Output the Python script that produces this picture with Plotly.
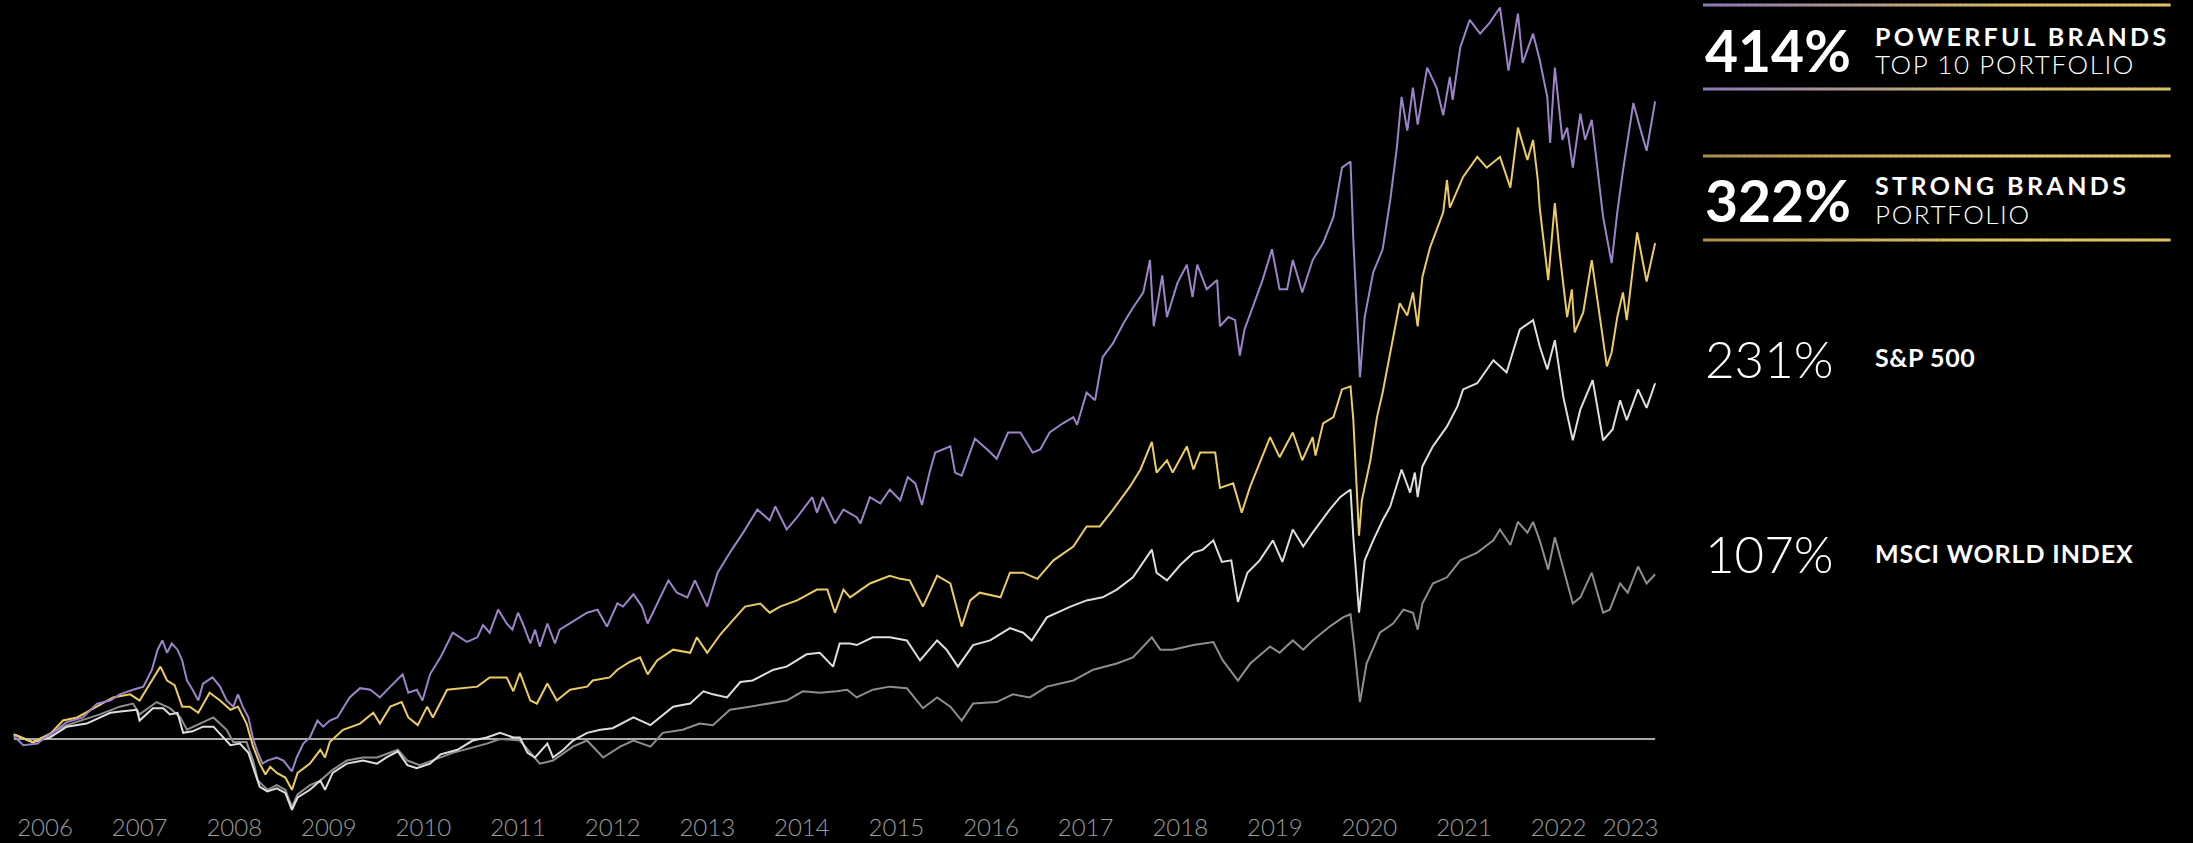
import plotly.graph_objects as go

# Cumulative total return (%) by decimal year, one list of (year, return) per series.
POWERFUL_TOP10 = [
    (2006.17, 2), (2006.27, -4), (2006.42, -3), (2006.48, 0), (2006.58, 4), (2006.73, 11), (2006.90, 14),
    (2007.05, 23), (2007.19, 25), (2007.29, 29), (2007.43, 32), (2007.54, 34), (2007.63, 45), (2007.69, 58),
    (2007.74, 64), (2007.79, 56), (2007.84, 62), (2007.90, 58), (2007.95, 51), (2008.00, 38), (2008.06, 32),
    (2008.12, 25), (2008.17, 36), (2008.27, 40), (2008.35, 34), (2008.42, 25), (2008.49, 21), (2008.54, 29),
    (2008.59, 21), (2008.65, 14), (2008.70, 0), (2008.75, -9), (2008.80, -16), (2008.85, -14), (2008.95, -12),
    (2009.02, -14), (2009.11, -21), (2009.16, -12), (2009.23, -3), (2009.30, 1), (2009.38, 12), (2009.44, 8),
    (2009.51, 12), (2009.59, 14), (2009.72, 27), (2009.83, 33), (2009.94, 32), (2010.04, 27), (2010.15, 34),
    (2010.28, 42), (2010.34, 30), (2010.43, 32), (2010.49, 25), (2010.57, 42), (2010.68, 53), (2010.81, 69),
    (2010.96, 63), (2011.07, 66), (2011.13, 74), (2011.20, 69), (2011.29, 84), (2011.38, 75), (2011.44, 71),
    (2011.50, 82), (2011.55, 75), (2011.63, 62), (2011.68, 71), (2011.73, 60), (2011.81, 75), (2011.89, 62),
    (2011.94, 71), (2012.05, 75), (2012.23, 82), (2012.34, 84), (2012.44, 73), (2012.55, 88), (2012.61, 86),
    (2012.72, 94), (2012.81, 86), (2012.87, 75), (2012.97, 88), (2013.09, 103), (2013.18, 95), (2013.29, 92),
    (2013.37, 103), (2013.50, 86), (2013.61, 108), (2013.76, 123), (2013.88, 134), (2014.03, 149), (2014.16, 142),
    (2014.22, 151), (2014.34, 136), (2014.45, 144), (2014.61, 157), (2014.66, 147), (2014.72, 157), (2014.85, 140),
    (2014.94, 149), (2015.08, 144), (2015.12, 140), (2015.22, 157), (2015.33, 153), (2015.43, 162), (2015.54, 155),
    (2015.62, 170), (2015.70, 166), (2015.77, 152), (2015.85, 173), (2015.91, 186), (2016.07, 190), (2016.12, 173),
    (2016.19, 171), (2016.33, 195), (2016.46, 188), (2016.56, 182), (2016.68, 199), (2016.81, 199), (2016.94, 186),
    (2017.02, 188), (2017.12, 199), (2017.26, 205), (2017.37, 209), (2017.41, 204), (2017.51, 225), (2017.60, 220),
    (2017.68, 248), (2017.79, 257), (2017.90, 270), (2018.00, 280), (2018.11, 290), (2018.18, 311), (2018.22, 268),
    (2018.31, 301), (2018.36, 274), (2018.47, 296), (2018.57, 308), (2018.63, 287), (2018.68, 308), (2018.78, 292),
    (2018.89, 298), (2018.92, 268), (2019.01, 274), (2019.08, 272), (2019.13, 249), (2019.18, 266), (2019.27, 281),
    (2019.37, 298), (2019.47, 318), (2019.55, 292), (2019.63, 292), (2019.69, 311), (2019.79, 290), (2019.90, 311),
    (2020.01, 322), (2020.12, 339), (2020.21, 371), (2020.30, 375), (2020.33, 324), (2020.40, 235), (2020.45, 274),
    (2020.54, 303), (2020.64, 318), (2020.72, 350), (2020.79, 384), (2020.84, 417), (2020.90, 395), (2020.96, 423),
    (2021.01, 399), (2021.11, 436), (2021.21, 423), (2021.28, 405), (2021.35, 430), (2021.38, 415), (2021.46, 449),
    (2021.56, 467), (2021.67, 458), (2021.77, 465), (2021.88, 475), (2021.97, 434), (2022.07, 471), (2022.12, 439),
    (2022.23, 458), (2022.30, 441), (2022.38, 417), (2022.41, 387), (2022.46, 436), (2022.54, 389), (2022.59, 397),
    (2022.65, 371), (2022.73, 406), (2022.78, 389), (2022.85, 402), (2022.91, 371), (2022.97, 339), (2023.06, 309),
    (2023.12, 342), (2023.18, 369), (2023.29, 413), (2023.36, 397), (2023.43, 382), (2023.52, 414),
]

STRONG_BRANDS = [
    (2006.17, 3), (2006.37, -2), (2006.55, 3), (2006.69, 12), (2006.84, 14), (2007.05, 21), (2007.22, 27),
    (2007.40, 29), (2007.50, 25), (2007.61, 36), (2007.72, 47), (2007.79, 38), (2007.87, 35), (2007.95, 21),
    (2008.03, 21), (2008.12, 17), (2008.24, 30), (2008.35, 25), (2008.46, 19), (2008.54, 21), (2008.63, 10),
    (2008.70, -5), (2008.77, -16), (2008.83, -23), (2008.88, -18), (2008.95, -22), (2009.04, -25), (2009.11, -33),
    (2009.17, -22), (2009.30, -16), (2009.41, -7), (2009.46, -12), (2009.51, -2), (2009.65, 6), (2009.83, 10),
    (2009.97, 17), (2010.04, 10), (2010.15, 21), (2010.27, 24), (2010.34, 14), (2010.44, 9), (2010.54, 21),
    (2010.60, 14), (2010.75, 32), (2010.92, 33), (2011.07, 34), (2011.20, 40), (2011.38, 40), (2011.45, 31),
    (2011.52, 43), (2011.63, 25), (2011.70, 23), (2011.81, 36), (2011.91, 25), (2012.05, 32), (2012.23, 34),
    (2012.29, 38), (2012.47, 40), (2012.55, 45), (2012.68, 50), (2012.79, 53), (2012.87, 42), (2012.97, 51),
    (2013.14, 58), (2013.32, 56), (2013.39, 66), (2013.50, 56), (2013.64, 68), (2013.77, 77), (2013.90, 86),
    (2014.06, 88), (2014.16, 82), (2014.27, 86), (2014.45, 90), (2014.66, 97), (2014.77, 97), (2014.85, 82),
    (2014.94, 97), (2015.01, 92), (2015.22, 101), (2015.43, 106), (2015.54, 104), (2015.64, 103), (2015.78, 86),
    (2015.93, 106), (2016.07, 101), (2016.19, 73), (2016.28, 90), (2016.38, 95), (2016.60, 92), (2016.70, 108),
    (2016.84, 108), (2016.99, 104), (2017.16, 116), (2017.37, 125), (2017.51, 138), (2017.65, 138), (2017.79, 149),
    (2017.97, 164), (2018.08, 175), (2018.20, 193), (2018.25, 173), (2018.36, 181), (2018.42, 173), (2018.57, 190),
    (2018.64, 175), (2018.71, 186), (2018.87, 186), (2018.92, 163), (2019.06, 166), (2019.15, 147), (2019.24, 164),
    (2019.45, 196), (2019.55, 183), (2019.69, 199), (2019.79, 181), (2019.90, 196), (2019.93, 184), (2020.01, 205),
    (2020.12, 209), (2020.21, 227), (2020.30, 229), (2020.33, 207), (2020.39, 132), (2020.42, 155), (2020.51, 181),
    (2020.58, 209), (2020.64, 225), (2020.82, 283), (2020.90, 275), (2020.96, 290), (2021.01, 268), (2021.06, 300),
    (2021.14, 319), (2021.28, 342), (2021.32, 363), (2021.35, 345), (2021.49, 365), (2021.64, 378), (2021.74, 371),
    (2021.88, 378), (2021.99, 358), (2022.07, 397), (2022.17, 376), (2022.23, 389), (2022.28, 363), (2022.30, 345),
    (2022.39, 298), (2022.46, 348), (2022.51, 316), (2022.59, 274), (2022.64, 292), (2022.67, 264), (2022.76, 277),
    (2022.85, 311), (2022.94, 274), (2023.01, 242), (2023.06, 251), (2023.12, 274), (2023.18, 290), (2023.22, 272),
    (2023.33, 329), (2023.43, 297), (2023.52, 322),
]

SP500 = [
    (2006.17, 3), (2006.37, -2), (2006.55, 1), (2006.73, 8), (2006.94, 10), (2007.08, 14), (2007.19, 17),
    (2007.32, 18), (2007.47, 19), (2007.50, 12), (2007.64, 20), (2007.75, 20), (2007.82, 16), (2007.90, 17),
    (2007.96, 4), (2008.06, 5), (2008.17, 8), (2008.28, 8), (2008.38, 1), (2008.46, -4), (2008.56, -3),
    (2008.65, -9), (2008.72, -22), (2008.77, -31), (2008.85, -34), (2008.95, -32), (2009.04, -35), (2009.11, -46),
    (2009.17, -38), (2009.30, -33), (2009.41, -27), (2009.46, -33), (2009.54, -22), (2009.69, -16), (2009.86, -14),
    (2010.01, -16), (2010.11, -12), (2010.23, -8), (2010.33, -17), (2010.43, -19), (2010.57, -16), (2010.68, -10),
    (2010.86, -7), (2011.02, -1), (2011.17, 1), (2011.31, 4), (2011.45, 1), (2011.52, 1), (2011.60, -9),
    (2011.68, -12), (2011.81, -3), (2011.87, -12), (2011.98, -7), (2012.08, -1), (2012.23, 4), (2012.37, 6),
    (2012.50, 7), (2012.72, 14), (2012.90, 9), (2013.00, 14), (2013.14, 21), (2013.32, 23), (2013.46, 31),
    (2013.56, 29), (2013.71, 27), (2013.85, 37), (2013.98, 38), (2014.20, 45), (2014.34, 47), (2014.55, 55),
    (2014.69, 56), (2014.83, 47), (2014.90, 62), (2015.01, 62), (2015.08, 61), (2015.25, 66), (2015.43, 66),
    (2015.61, 64), (2015.75, 51), (2015.93, 64), (2016.03, 58), (2016.15, 47), (2016.31, 61), (2016.49, 64),
    (2016.70, 72), (2016.84, 69), (2016.93, 64), (2017.09, 79), (2017.34, 86), (2017.51, 90), (2017.68, 92),
    (2017.83, 97), (2018.00, 105), (2018.20, 123), (2018.25, 108), (2018.36, 103), (2018.50, 113), (2018.64, 121),
    (2018.74, 123), (2018.85, 129), (2018.94, 115), (2019.04, 116), (2019.11, 89), (2019.21, 108), (2019.34, 116),
    (2019.48, 129), (2019.58, 115), (2019.69, 136), (2019.80, 125), (2019.90, 134), (2020.08, 149), (2020.19, 157),
    (2020.30, 162), (2020.33, 131), (2020.39, 82), (2020.45, 116), (2020.54, 129), (2020.64, 142), (2020.72, 151),
    (2020.84, 175), (2020.93, 160), (2020.98, 173), (2021.01, 157), (2021.06, 177), (2021.17, 190), (2021.32, 203),
    (2021.43, 216), (2021.49, 227), (2021.64, 231), (2021.81, 246), (2021.95, 238), (2022.09, 266), (2022.23, 272),
    (2022.30, 255), (2022.38, 240), (2022.46, 259), (2022.55, 222), (2022.65, 194), (2022.73, 214), (2022.86, 233),
    (2022.97, 194), (2023.07, 201), (2023.15, 220), (2023.22, 207), (2023.34, 227), (2023.43, 215), (2023.52, 231),
]

MSCI_WORLD = [
    (2006.17, 3), (2006.37, -2), (2006.73, 9), (2007.08, 16), (2007.29, 21), (2007.43, 23), (2007.50, 16),
    (2007.68, 24), (2007.82, 20), (2007.93, 14), (2008.00, 6), (2008.14, 10), (2008.28, 14), (2008.42, 6),
    (2008.49, -2), (2008.63, -2), (2008.70, -14), (2008.75, -27), (2008.85, -33), (2008.95, -30), (2009.04, -33),
    (2009.11, -44), (2009.17, -36), (2009.30, -30), (2009.41, -27), (2009.54, -20), (2009.69, -14), (2009.86, -12),
    (2010.01, -12), (2010.23, -7), (2010.33, -14), (2010.46, -17), (2010.68, -12), (2010.81, -9), (2011.17, -3),
    (2011.31, 0), (2011.52, -1), (2011.73, -16), (2011.87, -14), (2012.08, -5), (2012.23, -1), (2012.40, -12),
    (2012.58, -5), (2012.72, -1), (2012.90, -5), (2013.03, 4), (2013.24, 6), (2013.42, 10), (2013.56, 9),
    (2013.74, 19), (2013.95, 21), (2014.16, 23), (2014.34, 25), (2014.51, 31), (2014.69, 30), (2014.87, 31),
    (2014.98, 32), (2015.08, 27), (2015.25, 32), (2015.43, 34), (2015.61, 33), (2015.78, 20), (2015.93, 27),
    (2016.07, 21), (2016.19, 12), (2016.31, 23), (2016.56, 24), (2016.73, 29), (2016.91, 27), (2017.09, 34),
    (2017.37, 38), (2017.58, 45), (2017.83, 49), (2018.00, 53), (2018.20, 66), (2018.29, 58), (2018.42, 58),
    (2018.64, 61), (2018.85, 63), (2018.95, 51), (2019.11, 38), (2019.24, 49), (2019.45, 60), (2019.55, 56),
    (2019.69, 64), (2019.80, 58), (2019.90, 64), (2020.08, 73), (2020.22, 79), (2020.30, 81), (2020.34, 60),
    (2020.40, 24), (2020.47, 49), (2020.61, 69), (2020.75, 75), (2020.86, 84), (2020.96, 82), (2021.01, 71),
    (2021.06, 88), (2021.17, 101), (2021.32, 105), (2021.46, 116), (2021.64, 121), (2021.81, 129), (2021.88, 136),
    (2021.99, 126), (2022.07, 141), (2022.17, 134), (2022.23, 141), (2022.30, 129), (2022.39, 110), (2022.46, 131),
    (2022.55, 110), (2022.65, 88), (2022.73, 92), (2022.85, 108), (2022.97, 82), (2023.04, 84), (2023.15, 101),
    (2023.23, 95), (2023.34, 112), (2023.43, 101), (2023.52, 107),
]

YEARS = list(range(2006, 2024))

# Summary block on the right: (headline, title, subtitle)
SUMMARY = [
    ("414%", "POWERFUL BRANDS", "TOP 10 PORTFOLIO"),
    ("322%", "STRONG BRANDS", "PORTFOLIO"),
    ("231%", "S&P 500", None),
    ("107%", "MSCI WORLD INDEX", None),
]

COLORS = {
    "powerful": "#9b84c9",
    "strong": "#ebcb62",
    "sp500": "#dedede",
    "msci": "#8e8e8a",
}

W, H = 2193, 843
MARGIN_B = 28
PLOT_H = H - MARGIN_B
FONT = "Lato"


def unzip(series):
    return [p[0] for p in series], [p[1] for p in series]


def px_x(px):
    return px / W


def px_y(py):
    return (PLOT_H - py) / PLOT_H


fig = go.Figure()

for key, series, name in [
    ("msci", MSCI_WORLD, "MSCI World Index"),
    ("sp500", SP500, "S&P 500"),
    ("strong", STRONG_BRANDS, "Strong Brands Portfolio"),
    ("powerful", POWERFUL_TOP10, "Powerful Brands Top 10 Portfolio"),
]:
    xs, ys = unzip(series)
    fig.add_trace(go.Scatter(
        x=xs, y=ys, mode="lines", name=name,
        line=dict(color=COLORS[key], width=2),
        hoverinfo="skip", showlegend=False,
    ))

x_first = POWERFUL_TOP10[0][0]
x_last = POWERFUL_TOP10[-1][0]

# Zero-return reference line across the full period
fig.add_shape(type="line", xref="x", yref="y", x0=x_first, x1=x_last, y0=0, y1=0,
              line=dict(color="#a9a9a9", width=2), layer="below")

# Year labels sit mid-year; the final partial year is labelled at the middle of its span
tickvals = [y + 0.5 for y in YEARS[:-1]] + [(YEARS[-1] + x_last) / 2]
ticktext = [str(y) for y in YEARS]


def hex_to_rgb(h):
    h = h.lstrip("#")
    return tuple(int(h[i:i + 2], 16) for i in (0, 2, 4))


def gradient_rule(py, stops, x0=1703, x1=2170, n=80):
    cols = [hex_to_rgb(c) for c in stops]
    seg = (x1 - x0) / n
    for i in range(n):
        t = i / (n - 1)
        pos = t * (len(cols) - 1)
        k = min(int(pos), len(cols) - 2)
        f = pos - k
        c = tuple(round(cols[k][j] + (cols[k + 1][j] - cols[k][j]) * f) for j in range(3))
        fig.add_shape(type="line", xref="paper", yref="paper",
                      x0=px_x(x0 + i * seg), x1=px_x(x0 + (i + 1) * seg + 0.6),
                      y0=px_y(py), y1=px_y(py),
                      line=dict(color="rgb(%d,%d,%d)" % c, width=3))


purple_gold = ["#8d78b8", "#b09a8c", "#d6bc62", "#dcc266"]
gold_gold = ["#a88d4c", "#c9ab58", "#e0c666", "#dcc266"]
gradient_rule(5, purple_gold)
gradient_rule(89, purple_gold)
gradient_rule(156, gold_gold)
gradient_rule(240, gold_gold)


def spaced(text, px):
    return '<span style="letter-spacing:%spx">%s</span>' % (px, text)


def note(text, px, py, size, weight, color="#ffffff"):
    fig.add_annotation(
        x=px_x(px), y=px_y(py), xref="paper", yref="paper",
        xanchor="left", yanchor="middle", showarrow=False, text=text,
        font=dict(family=FONT, size=size, color=color, weight=weight),
    )


big_y = [50, 200, 358, 553]
title_y = [36, 185, 357, 553]
sub_y = [64, 214]
title_spacing = [3.3, 3.4, 0.6, 0.9]
for i, (head, title, sub) in enumerate(SUMMARY):
    bold_head = i < 2
    note(head, 1703, big_y[i], 57 if bold_head else 51, 700 if bold_head else 300)
    note(spaced(title, title_spacing[i]), 1873, title_y[i], 25, 700)
    if sub:
        note(spaced(sub, 1.6), 1873, sub_y[i], 26, 300)

fig.update_layout(
    width=W, height=H,
    paper_bgcolor="#000000", plot_bgcolor="#000000",
    margin=dict(l=0, r=0, t=0, b=MARGIN_B, pad=0),
    showlegend=False,
    xaxis=dict(
        range=[2006.024, 2006.024 + W / 94.6],
        showgrid=False, zeroline=False, showline=False,
        tickmode="array", tickvals=tickvals, ticktext=ticktext,
        ticks="", ticklabelstandoff=-4,
        tickfont=dict(family=FONT, size=24, color="#9c9c9c", weight=300),
        automargin=False, fixedrange=True,
    ),
    yaxis=dict(
        range=[-(PLOT_H - 739) / 1.54, 739 / 1.54],
        visible=False, showgrid=False, zeroline=False, fixedrange=True,
    ),
)

fig.write_html("out.html", config={"displayModeBar": False})
